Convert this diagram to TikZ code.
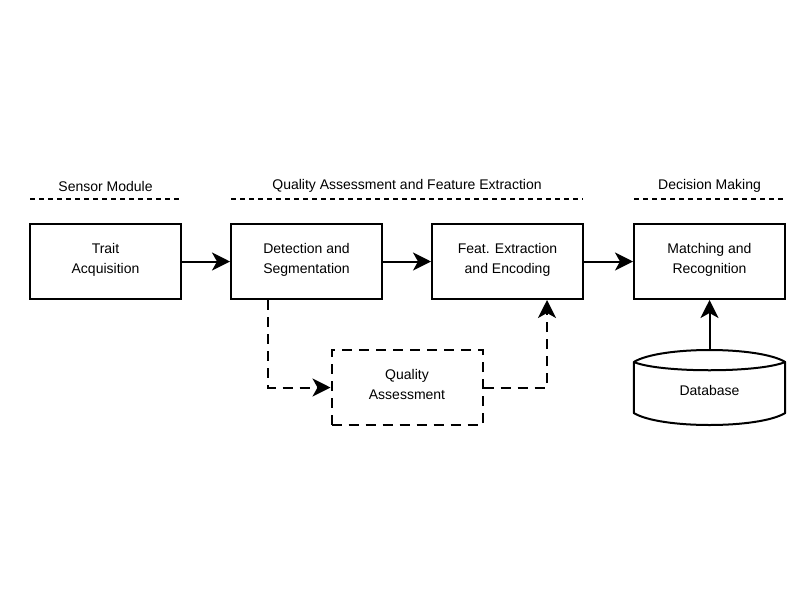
\documentclass[tikz,border=0pt]{standalone}
\usepackage{fontspec}
\setmainfont{Liberation Sans}
\usetikzlibrary{arrows.meta}
\begin{document}
\begin{tikzpicture}[x=1pt,y=-1pt,
  every node/.style={font=\fontsize{14}{20}\selectfont, align=center},
  stage/.style={draw, line width=2pt, minimum width=151pt, minimum height=75pt, inner sep=0pt},
  qabox/.style={stage, dash pattern=on 10pt off 7pt},
  lbl/.style={inner sep=0pt},
  arr/.style={line width=2pt, -{Stealth[length=18pt,width=18pt,inset=5pt]}},
  dasharr/.style={arr, dash pattern=on 10pt off 7pt},
  hdrline/.style={line width=2pt, dash pattern=on 5pt off 4pt},
  hdr/.style={inner sep=0pt}]
\useasboundingbox (0,0) rectangle (800,600);
% headers
\node[hdr] (h1) at (105.5,186) {Sensor Module};
\node[hdr] (h2) at (407,186) {Quality Assessment and Feature Extraction};
\node[hdr] (h3) at (709.5,186) {Decision Making};
\coordinate (h1a) at (30,199); \coordinate (h1b) at (181,199);
\coordinate (h2a) at (231,199); \coordinate (h2b) at (583,199);
\coordinate (h3a) at (634,199); \coordinate (h3b) at (785,199);
\draw[hdrline] (h1a) -- (h1b);
\draw[hdrline] (h2a) -- (h2b);
\draw[hdrline] (h3a) -- (h3b);
% stages
\node[stage] (trait) at (105.5,261.5) {};
\node[stage] (det) at (306.5,261.5) {};
\node[stage] (feat) at (507.5,261.5) {};
\node[stage] (match) at (709.5,261.5) {};
\node[lbl] (traitt) at (105.5,259.5) {Trait\\Acquisition};
\node[lbl] (dett) at (306.5,259.5) {Detection and\\Segmentation};
\node[lbl] (featt) at (507.5,259.5) {Feat. Extraction\\and Encoding};
\node[lbl] (matcht) at (709.5,259.5) {Matching and\\Recognition};
\node[qabox] (qa) at (407,387.5) {};
\node[lbl] (qat) at (407,384) {Quality\\Assessment};
% database
\node[minimum width=151pt, minimum height=75pt, inner sep=0pt] (db) at (709.5,387.5) {};
\node[lbl] (dbt) at (709.5,390.5) {Database};
\draw[line width=2pt, line join=round]
  (db.west |- 0,362) .. controls (660,346) and (759,346) .. (db.east |- 0,362)
  -- (db.east |- 0,413) .. controls (759,429) and (660,429) .. (db.west |- 0,413) -- cycle;
\draw[line width=2pt] (db.west |- 0,362) .. controls (660,373) and (759,373) .. (db.east |- 0,362);
% connectors
\draw[arr] (trait) -- (det);
\draw[arr] (det) -- (feat);
\draw[arr] (feat) -- (match);
\draw[arr] (db.north) -- (match.south);
\coordinate (dq) at ([xshift=38pt]det.south west);
\coordinate (qf) at ([xshift=116pt]feat.south west);
\draw[dasharr] (dq) |- (qa.west);
\draw[dasharr] (qa.east) -| (qf);
\end{tikzpicture}
\end{document}
